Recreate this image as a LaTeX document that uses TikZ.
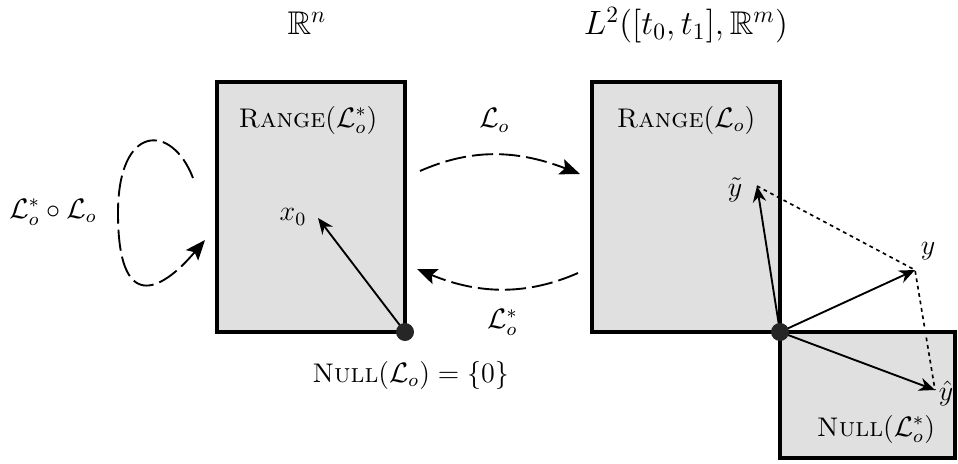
\documentclass[tikz,border=0pt]{standalone}
\usepackage{amsmath,amssymb}
\usepackage{tikz}
\usetikzlibrary{arrows.meta}

\begin{document}
\begin{tikzpicture}[x=0.015cm, y=0.015cm, font=\fontsize{11.5}{14}\selectfont,
  space/.style={draw, line width=1.3pt, fill=black!12},
  origin/.style={circle, fill=black!85, minimum size=0.27cm, inner sep=0pt},
  title/.style={font=\fontsize{14}{17}\selectfont},
  vec/.style={-{Stealth[length=2.4mm, width=2mm]}, line width=0.8pt},
  map/.style={-{Stealth[length=3mm, width=2.4mm, inset=0.6mm]}, line width=0.8pt, dash pattern=on 9pt off 2.6pt},
  proj/.style={line width=0.7pt, dash pattern=on 1.6pt off 1.6pt}]
\useasboundingbox (0,0) rectangle (958,463);
% the spaces
\draw[space] (217,131) rectangle (405,381);
\draw[space] (592,131) rectangle (780,381);
\draw[space] (780,5) rectangle (955,131);
\node[title] (Rn) at (307,440) {$\mathbb{R}^n$};
\node[title] (L2) at (686,438) {$L^2([t_0,t_1],\mathbb{R}^m)$};
\node (rA) at (308,343) {\textsc{Range}$(\mathcal{L}_o^*)$};
\node (rB) at (686,343) {\textsc{Range}$(\mathcal{L}_o)$};
\node[anchor=west] (nA) at (304,88) {\textsc{Null}$(\mathcal{L}_o) = \{0\}$};
\node (nB) at (876,34) {\textsc{Null}$(\mathcal{L}_o^*)$};
\coordinate (zeroA) at (405,131);
\coordinate (zeroB) at (780,131);
% vectors
\node (x0) at (293,246) {$x_0$};
\node (yt) at (735,273) {$\tilde{y}$};
\node (y) at (928,212) {$y$};
\node (yh) at (946,70) {$\hat{y}$};
\coordinate (x0tip) at (318,245);
\coordinate (yttip) at (757,277);
\coordinate (ytip) at (915,193);
\coordinate (yhtip) at (935,73);
\draw[proj] (yttip) -- (ytip) -- (yhtip);
\foreach \t in {x0tip}
  \draw[vec] (zeroA) -- (\t);
\foreach \t in {yttip, ytip, yhtip}
  \draw[vec] (zeroB) -- (\t);
\node[origin] (dotA) at (zeroA) {};
\node[origin] (dotB) at (zeroB) {};
% the maps
\coordinate (fwdS) at (420,292); \coordinate (fwdE) at (580,289);
\coordinate (bwdS) at (578,190); \coordinate (bwdE) at (417,194);
\coordinate (loopS) at (193,285); \coordinate (loopM) at (118,250); \coordinate (loopE) at (205,223);
\draw[map] (fwdS) .. controls (470,314) and (515,314) .. node[above=6pt] (Lo) {$\mathcal{L}_o$} (fwdE);
\draw[map] (bwdS) .. controls (528,168) and (480,168) .. node[below=5pt] (Los) {$\mathcal{L}_o^*$} (bwdE);
\draw[map] (loopS) .. controls (172,340) and (118,340) .. (loopM)
  .. controls (118,150) and (160,170) .. (loopE);
\node (comp) at (53,251) {$\mathcal{L}_o^*\circ\mathcal{L}_o$};
\end{tikzpicture}
\end{document}
